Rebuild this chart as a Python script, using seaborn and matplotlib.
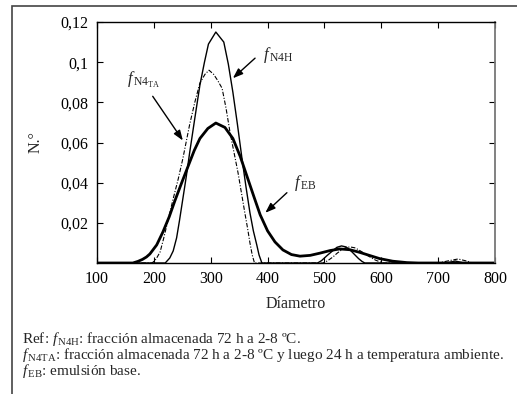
import matplotlib
matplotlib.use("Agg")
import matplotlib.pyplot as plt
import matplotlib.patches as mpatches
import seaborn as sns
import pandas as pd

# ---- data ----
x_n4h = [100, 220, 228, 234, 240, 245, 251, 257, 263, 272, 281, 289, 296, 309, 323, 331, 339,
         347, 355, 362, 369, 375, 381, 385, 390,
         488, 495, 505, 515, 522, 530, 538, 545, 552, 560, 566, 571,
         715, 730, 745, 800]
y_n4h = [0, 0, 0.0025, 0.006, 0.0125, 0.021, 0.032, 0.043, 0.055, 0.072, 0.0886, 0.100, 0.109,
         0.115, 0.110, 0.099, 0.085, 0.069, 0.052, 0.038, 0.025, 0.016, 0.009, 0.004, 0,
         0, 0.0012, 0.0038, 0.0062, 0.0078, 0.0085, 0.008, 0.0065, 0.0045, 0.0022, 0.0008, 0,
         0, 0.001, 0, 0]

x_n4ta = [100, 197, 204, 211, 217, 223, 234, 243, 251, 263, 272, 281, 290, 297, 305, 312, 320,
          327, 334, 341, 348, 354, 360, 365, 369, 373, 377,
          497, 505, 515, 522, 530, 538, 545, 553, 560, 570, 580, 590, 603,
          700, 720, 735, 750, 760, 800]
y_n4ta = [0, 0, 0.002, 0.0055, 0.012, 0.019, 0.032, 0.042, 0.052, 0.069, 0.080, 0.0896, 0.094,
          0.096, 0.094, 0.091, 0.087, 0.077, 0.065, 0.055, 0.045, 0.035, 0.025, 0.017, 0.010,
          0.004, 0,
          0, 0.001, 0.003, 0.0048, 0.0065, 0.0077, 0.008, 0.0076, 0.0066, 0.0048, 0.003, 0.0014, 0,
          0, 0.0012, 0.002, 0.001, 0, 0]

x_eb = [100, 163, 172, 180, 187, 193, 205, 216, 227, 237, 249, 260, 271, 281, 295, 309, 325,
        339, 352, 364, 376, 387, 400, 413, 427, 442, 457, 475, 492, 510, 527, 545, 562, 580,
        597, 620, 645, 665, 800]
y_eb = [0, 0, 0.0008, 0.0018, 0.003, 0.0045, 0.009, 0.0155, 0.023, 0.031, 0.040, 0.048, 0.056,
        0.062, 0.067, 0.0697, 0.0675, 0.062, 0.053, 0.043, 0.033, 0.024, 0.016, 0.0105, 0.0065,
        0.0042, 0.0034, 0.0038, 0.0049, 0.0062, 0.007, 0.0066, 0.0053, 0.0037, 0.0022, 0.0009,
        0.0002, 0, 0]

x_ticks = [100, 200, 300, 400, 500, 600, 700, 800]
y_ticks = [0.02, 0.04, 0.06, 0.08, 0.1, 0.12]
y_tick_labels = ["0,02", "0,04", "0,06", "0,08", "0,1", "0,12"]

x_label = "Díametro"
y_label = "N.°"
caption = [
    r"Ref: $f_{\,\mathrm{N4H}}$: fracción almacenada 72 h a 2-8 ºC.",
    r"$f_{\,\mathrm{N4TA}}$: fracción almacenada 72 h a 2-8 ºC y luego 24 h a temperatura ambiente.",
    r"$f_{\,\mathrm{EB}}$: emulsión base.",
]

# ---- style ----
sns.set_style("ticks")
plt.rcParams["font.family"] = ["Liberation Serif", "DejaVu Serif"]
plt.rcParams["mathtext.fontset"] = "custom"
plt.rcParams["mathtext.rm"] = "Liberation Serif"
plt.rcParams["mathtext.it"] = "Liberation Serif:italic"
plt.rcParams["mathtext.bf"] = "Liberation Serif:bold"

W, H = 517, 394
fig = plt.figure(figsize=(W / 100, H / 100), dpi=100)
fig.patch.set_facecolor("white")
ax = fig.add_axes([97 / W, 1 - 263 / H, (495 - 97) / W, (263 - 22) / H])

df_n4h = pd.DataFrame({"x": x_n4h, "y": y_n4h})
df_n4ta = pd.DataFrame({"x": x_n4ta, "y": y_n4ta})
df_eb = pd.DataFrame({"x": x_eb, "y": y_eb})

sns.lineplot(data=df_n4h, x="x", y="y", ax=ax, color="black", lw=1.0, sort=False,
             estimator=None)
sns.lineplot(data=df_n4ta, x="x", y="y", ax=ax, color="black", lw=0.8, sort=False,
             estimator=None)
ax.lines[-1].set_dashes([4, 1.5, 1, 1.5])
sns.lineplot(data=df_eb, x="x", y="y", ax=ax, color="black", lw=2.0, sort=False,
             estimator=None)

ax.set_xlim(100, 800)
ax.set_ylim(0, 0.12)
ax.set_xticks(x_ticks)
ax.set_xticklabels([str(v) for v in x_ticks])
ax.set_yticks(y_ticks)
ax.set_yticklabels(y_tick_labels)
ax.tick_params(direction="in", length=4, width=0.8, top=True, right=True,
               labelsize=11.5, colors="black", pad=6)
for s in ax.spines.values():
    s.set_linewidth(1.0)
    s.set_color("black")
ax.spines["right"].set_color("#777777")
ax.spines["right"].set_linewidth(1.3)

ax.set_xlabel(x_label, fontsize=11.5, labelpad=6)
ax.set_ylabel(y_label, fontsize=11.5, labelpad=12)

arrow = dict(arrowstyle="-|>,head_length=0.6,head_width=0.22", color="black", lw=1.0,
             shrinkA=0, shrinkB=0)
ax.text(392, 0.1035, r"$f_{\,\mathrm{N4H}}$", fontsize=12, va="center", ha="left")
ax.annotate("", xy=(339, 0.092), xytext=(378, 0.102), arrowprops=arrow)
ax.text(153, 0.091, r"$f_{\,\mathrm{N4}_{\mathrm{TA}}}$", fontsize=12, va="center", ha="left")
ax.annotate("", xy=(251, 0.061), xytext=(198, 0.083), arrowprops=arrow)
ax.text(447, 0.040, r"$f_{\,\mathrm{EB}}$", fontsize=12, va="center", ha="left")
ax.annotate("", xy=(396, 0.025), xytext=(434, 0.035), arrowprops=arrow)

# frame around figure (cut on right and bottom)
rect = mpatches.Rectangle((12 / W, -0.2), 1.3, 1 - 6 / H + 0.2, transform=fig.transFigure,
                          fill=False, edgecolor="#444444", lw=1.2, clip_on=False)
fig.patches.append(rect)

fig.text(22 / W, 1 - 330 / H, "\n".join(caption), fontsize=11, ha="left", va="top",
         linespacing=0.86)

fig.savefig("out.png", dpi=100)
